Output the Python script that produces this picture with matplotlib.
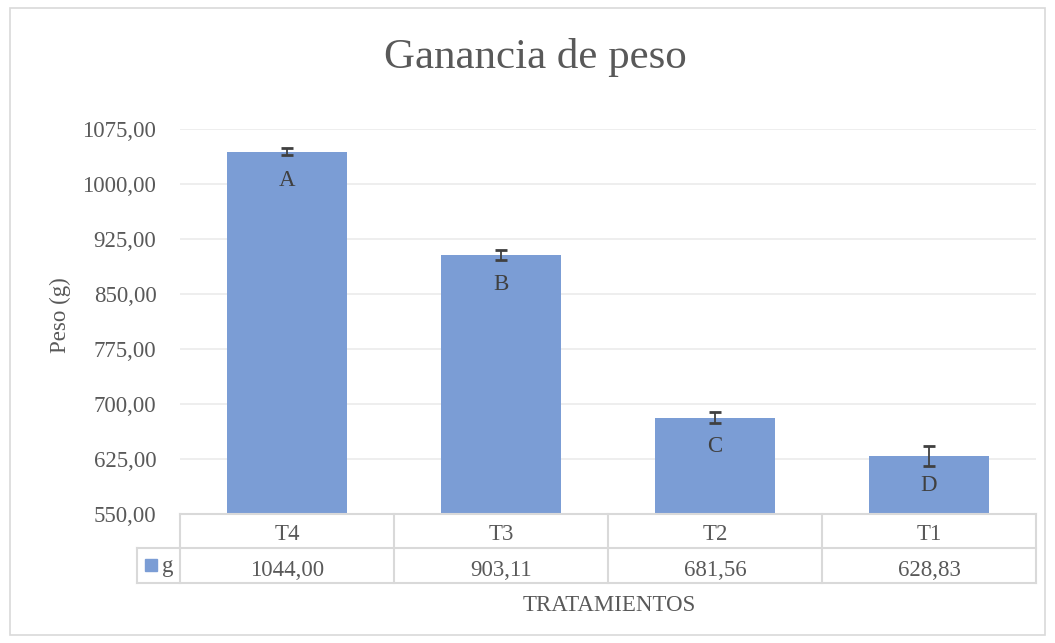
import matplotlib.pyplot as plt
from matplotlib.patches import Rectangle

plt.rcParams["font.family"] = ["Liberation Serif", "DejaVu Serif"]

treatments = ["T4", "T3", "T2", "T1"]
gain = [1044.00, 903.11, 681.56, 628.83]
err = [5, 7, 7, 13.5]
groups = ["A", "B", "C", "D"]
series_name = "g"
yticks = [550, 625, 700, 775, 850, 925, 1000, 1075]

BAR = "#7b9dd5"
TXT = "#595959"
GRID = "#d9d9d9"
FS = 16.5

W, H = 1055, 643
fig = plt.figure(figsize=(W / 100, H / 100), dpi=100)
fig.patches.append(Rectangle((10 / W, 8 / H), 1035 / W, 627 / H, transform=fig.transFigure,
                             fill=False, edgecolor=GRID, linewidth=1.2))


def fy(py):
    # pixel row (from top) -> figure fraction
    return 1 - py / H


x0, x1 = 180 / W, 1036 / W
ax = fig.add_axes([x0, fy(514), x1 - x0, fy(129) - fy(514)])
xs = list(range(len(treatments)))
ax.bar(xs, [g - 550 for g in gain], bottom=550, width=0.56, color=BAR, zorder=2)
ax.errorbar(xs, gain, yerr=err, fmt="none", ecolor="#404040", elinewidth=1.3,
            capsize=4.5, capthick=2, zorder=3)
for x, g, lab in zip(xs, gain, groups):
    ax.text(x, g - 47, lab, ha="center", va="baseline", fontsize=FS, color="#404040", zorder=4)

ax.set_xlim(-0.5, len(treatments) - 0.5)
ax.set_ylim(550, 1075)
ax.set_yticks(yticks)
ax.set_yticklabels([f"{v:.2f}".replace(".", ",") for v in yticks], fontsize=FS, color=TXT)
ax.tick_params(axis="y", length=0, pad=17)
ax.set_xticks([])
ax.grid(axis="y", color="#ebebeb", linewidth=1.2, zorder=0)
for s in ["top", "right", "left"]:
    ax.spines[s].set_visible(False)
ax.spines["bottom"].set_color(GRID)
ax.spines["bottom"].set_linewidth(1.5)

fig.text(60 / W, fy(315), "Peso (g)", rotation=90, ha="center", va="center",
         fontsize=FS, color=TXT)

# data table below the axis
ph = 514 - 129
rows = [(548 - 514) / ph, (583 - 514) / ph]
leg_left = (137 - 180) / (1036 - 180)
kw = dict(transform=ax.transAxes, clip_on=False, color=GRID, linewidth=1.5)
ax.plot([0, 1], [-rows[0], -rows[0]], **kw)
ax.plot([leg_left, 0], [-rows[0], -rows[0]], **kw)
ax.plot([leg_left, 1], [-rows[1], -rows[1]], **kw)
ax.plot([leg_left, leg_left], [-rows[0], -rows[1]], **kw)
for i in range(len(treatments) + 1):
    xa = i / len(treatments)
    ax.plot([xa, xa], [0, -rows[1]], **kw)
for i, (t, g) in enumerate(zip(treatments, gain)):
    xf = x0 + (i + 0.5) / len(treatments) * (x1 - x0)
    fig.text(xf, fy(540), t, ha="center", va="baseline", fontsize=FS, color=TXT)
    fig.text(xf, fy(576), f"{g:.2f}".replace(".", ","), ha="center", va="baseline",
             fontsize=FS, color=TXT)
fig.patches.append(Rectangle((145 / W, fy(571)), 12 / W, 12 / H,
                             transform=fig.transFigure, color=BAR))
fig.text(162 / W, fy(572), series_name, ha="left", va="baseline", fontsize=FS, color=TXT)

fig.text(609 / W, fy(611), "TRATAMIENTOS", ha="center", va="baseline",
         fontsize=FS, color=TXT)
fig.text(535 / W, fy(68), "Ganancia de peso", ha="center", va="baseline",
         fontsize=31, color=TXT)

fig.savefig("out.png", dpi=100)
